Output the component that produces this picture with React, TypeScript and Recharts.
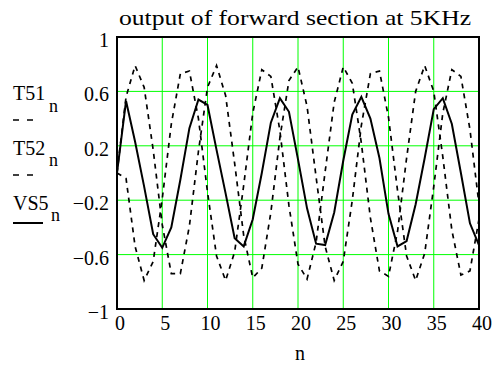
import React from "react";
import { LineChart, Line, XAxis, YAxis, CartesianGrid, ReferenceArea } from "recharts";

const N = [0, 1, 2, 3, 4, 5, 6, 7, 8, 9, 10, 11, 12, 13, 14, 15, 16, 17, 18, 19, 20, 21, 22, 23, 24, 25, 26, 27, 28, 29, 30, 31, 32, 33, 34, 35, 36, 37, 38, 39, 40];

const T51 = [0, 0.56, 0.79, 0.63, 0.17, -0.38, -0.74, -0.74, -0.39, 0.16, 0.63, 0.79, 0.57, 0.07, -0.46, -0.77, -0.7, -0.29, 0.26, 0.68, 0.78, 0.49, -0.03, -0.54, -0.79, -0.65, -0.2, 0.35, 0.73, 0.75, 0.41, -0.13, -0.61, -0.79, -0.59, -0.1, 0.44, 0.76, 0.71, 0.32, -0.23];

const T52 = [0, -0.04, -0.54, -0.79, -0.65, -0.19, 0.36, 0.73, 0.75, 0.4, -0.14, -0.61, -0.79, -0.58, -0.09, 0.44, 0.76, 0.71, 0.31, -0.24, -0.67, -0.78, -0.51, 0.01, 0.52, 0.78, 0.66, 0.22, -0.33, -0.72, -0.76, -0.43, 0.11, 0.6, 0.79, 0.6, 0.12, -0.42, -0.75, -0.72, -0.34];

const VS5 = [0, 0.53, 0.23, -0.1, -0.45, -0.55, -0.4, -0.05, 0.33, 0.54, 0.5, 0.17, -0.15, -0.48, -0.54, -0.34, 0, 0.37, 0.55, 0.45, 0.1, -0.26, -0.52, -0.53, -0.29, 0.09, 0.43, 0.56, 0.4, 0.11, -0.3, -0.54, -0.5, -0.23, 0.11, 0.47, 0.55, 0.36, 0, -0.37, -0.53];

const X_TICKS = [0, 5, 10, 15, 20, 25, 30, 35, 40];
const Y_TICKS = [-1, -0.6, -0.2, 0.2, 0.6, 1];

const TITLE = "output of forward section at 5KHz";

const data = N.map((n, i) => ({ n, t51: T51[i], t52: T52[i], vs5: VS5[i] }));

const FONT = "Liberation Serif, Times New Roman, serif";
const txt = { fontFamily: FONT };

const fmt = (v: number) => (v < 0 ? "\u2212" + String(-v) : String(v));

function XTick(props: any) {
  const { x, y, payload } = props;
  return (
    <text x={x + 3} y={y} dy={14} textAnchor="middle" style={txt} fontSize={20} fill="#000">
      {payload.value}
    </text>
  );
}

function YTick(props: any) {
  const { x, y, payload } = props;
  return (
    <text x={x} y={y} dy={10} textAnchor="end" style={txt} fontSize={20} fill="#000">
      {fmt(payload.value)}
    </text>
  );
}

export default function App() {
  return (
    <div style={{ position: "absolute", left: 0, top: 0, width: 493, height: 368, background: "#fff", fontFamily: FONT }}>
      <LineChart width={493} height={368} data={data} margin={{ top: 37, right: 14, bottom: 29, left: 77 }}>
        <CartesianGrid stroke="#00ff00" strokeWidth={1} />
        <XAxis
          dataKey="n"
          type="number"
          domain={[0, 40]}
          ticks={X_TICKS}
          interval={0}
          axisLine={false}
          tickLine={false}
          tickSize={0}
          tickMargin={7}
          height={30}
          tick={<XTick />}
        />
        <YAxis
          type="number"
          domain={[-1, 1]}
          ticks={Y_TICKS}
          interval={0}
          axisLine={false}
          tickLine={false}
          tickSize={0}
          tickMargin={8}
          width={40}
          tick={<YTick />}
        />
        <ReferenceArea x1={0} x2={40} y1={-1} y2={1} fill="none" stroke="#000" strokeWidth={2} />
        <Line dataKey="t51" stroke="#000" strokeWidth={1.7} strokeDasharray="5 5" dot={false} isAnimationActive={false} />
        <Line dataKey="t52" stroke="#000" strokeWidth={1.7} strokeDasharray="5 5" dot={false} isAnimationActive={false} />
        <Line dataKey="vs5" stroke="#000" strokeWidth={2} dot={false} isAnimationActive={false} />
      </LineChart>
      <svg width={493} height={368} style={{ position: "absolute", left: 0, top: 0, pointerEvents: "none", fontFamily: FONT }} fill="#000">
        <text x={119} y={25} fontSize={22} textLength={352} lengthAdjust="spacingAndGlyphs">{TITLE}</text>
        <text x={13} y={100} fontSize={20}>T51</text>
        <text x={49} y={112} fontSize={18}>n</text>
        <line x1={13} x2={33} y1={120} y2={120} stroke="#000" strokeWidth={1.7} strokeDasharray="6 8" />
        <text x={13} y={155} fontSize={20}>T52</text>
        <text x={49} y={166} fontSize={18}>n</text>
        <line x1={13} x2={33} y1={175} y2={175} stroke="#000" strokeWidth={1.7} strokeDasharray="6 8" />
        <text x={13} y={210} fontSize={20}>VS5</text>
        <text x={51} y={221} fontSize={18}>n</text>
        <line x1={13} x2={43} y1={223} y2={223} stroke="#000" strokeWidth={2} />
        <text x={300} y={360} fontSize={20} textAnchor="middle">n</text>
      </svg>
    </div>
  );
}
